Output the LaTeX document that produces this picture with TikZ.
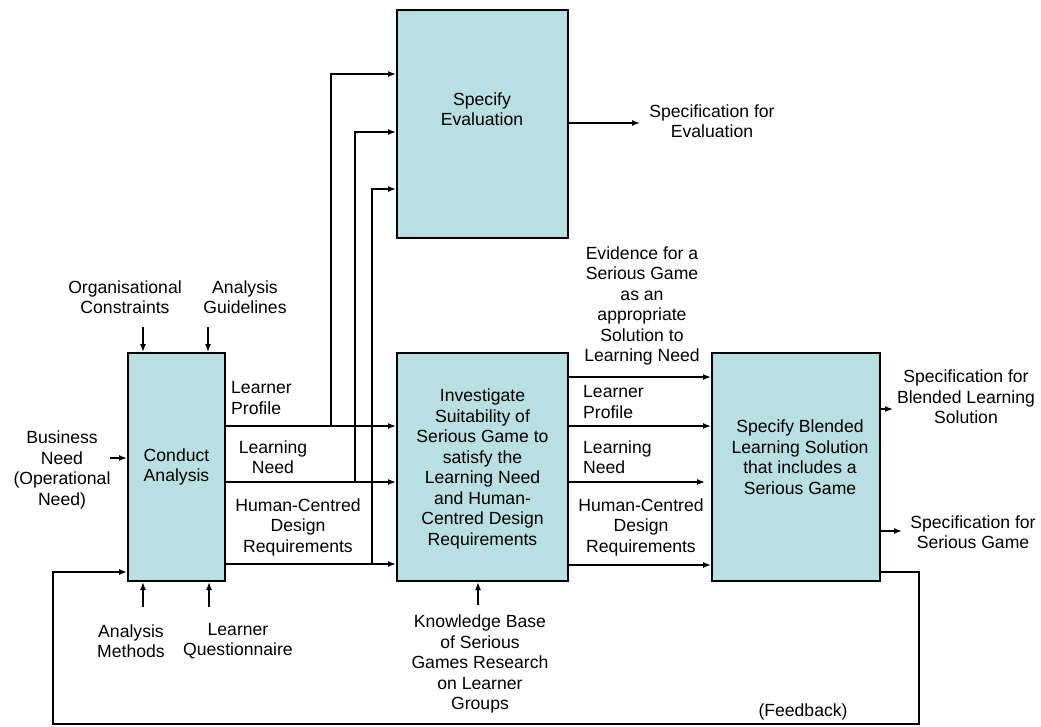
\documentclass[tikz,border=0pt]{standalone}
\usepackage{fontspec}
\setmainfont{Liberation Sans}
\usetikzlibrary{arrows.meta}
\definecolor{boxfill}{RGB}{185,223,226}
\begin{document}
\begin{tikzpicture}[x=1pt,y=-1pt,
  every node/.style={font=\fontsize{17.6}{20.5}\selectfont},
  proc/.style={draw=black,line width=2pt,fill=boxfill,anchor=north west,inner sep=4pt,align=center,text width=#1},
  lbl/.style={align=center,inner sep=0pt},
  lbll/.style={align=left,inner sep=0pt,anchor=west},
  arr/.style={line width=1.5pt,-{Latex[length=8pt,width=6pt]}},
  ln/.style={line width=1.5pt}]
\useasboundingbox (0,0) rectangle (1041,726);
% boxes
\node[proc=89pt,minimum width=97pt,minimum height=228pt] (ca) at (127,352) {};
\node at (ca.center) [lbl] {Conduct\\Analysis};
\node[proc=163pt,minimum width=171pt,minimum height=228pt] (inv) at (396,352) {};
\node at ([yshift=-2pt]inv.center) [lbl] {Investigate\\Suitability of\\Serious Game to\\satisfy the\\Learning Need\\and Human-\\Centred Design\\Requirements};
\node[proc=163pt,minimum width=171pt,minimum height=228pt] (ev) at (396,9) {};
\node at (482,109) [lbl] (evt) {Specify\\Evaluation};
\node[proc=160pt,minimum width=168pt,minimum height=228pt] (bl) at (711,352) {};
\node at (800,457) [lbl] (blt) {Specify Blended\\Learning Solution\\that includes a\\Serious Game};
% junctions
\coordinate (j1) at (331,426);
\coordinate (j2) at (355,482);
\coordinate (j3) at (372,564);
% ca -> inv
\draw[arr] (ca.east |- j1) -- (inv.west |- j1);
\draw[arr] (ca.east |- j2) -- (inv.west |- j2);
\draw[arr] (ca.east |- j3) -- (inv.west |- j3);
% verticals to evaluation
\draw[arr] (j1) |- (ev.west |- 0,74);
\draw[arr] (j2) |- (ev.west |- 0,132);
\draw[arr] (j3) |- (ev.west |- 0,189);
% evaluation output
\coordinate (evo) at (640,123);
\draw[arr] (ev.east |- evo) -- (evo);
\node[lbl] (evl) at (712,121) {Specification for\\Evaluation};
% inv -> bl
\draw[arr] (inv.east |- 0,377) -- (bl.west |- 0,377);
\draw[arr] (inv.east |- 0,426) -- (bl.west |- 0,426);
\draw[arr] (inv.east |- 0,482) -- (705,482);
\draw[arr] (inv.east |- 0,565) -- (bl.west |- 0,565);
% bl outputs
\coordinate (blo1) at (893,409);
\coordinate (blo2) at (902,531);
\draw[arr] (bl.east |- blo1) -- (blo1);
\draw[arr] (bl.east |- blo2) -- (blo2);
\node[lbl] at (966,397) {Specification for\\Blended Learning\\Solution};
\node[lbl] at (973,532) {Specification for\\Serious Game};
% feedback
\coordinate (fb1) at (919,724);
\coordinate (fb2) at (53,572);
\draw[arr] (bl.east |- 0,572) -| (fb1) -| (fb2) -- (ca.west |- fb2);
\node[lbl] at (803,712) {(Feedback)};
% inputs to ca
\coordinate (t1) at (143,327);
\coordinate (t2) at (208,327);
\draw[arr] (t1) -- (t1 |- ca.north);
\draw[arr] (t2) -- (t2 |- ca.north);
\node[lbl] at (125,297) {Organisational\\Constraints};
\node[lbl] at (245,297) {Analysis\\Guidelines};
\coordinate (b1) at (143,607);
\coordinate (b2) at (209,607);
\draw[arr] (b1) -- (b1 |- ca.south);
\draw[arr] (b2) -- (b2 |- ca.south);
\node[lbl] at (131,641) {Analysis\\Methods};
\node[lbl] at (238,641) {Learner\\Questionnaire};
\coordinate (bn) at (110,458);
\draw[arr] (bn) -- (ca.west |- bn);
\node[lbl] at (62,470) {Business\\Need\\(Operational\\Need)};
% knowledge
\coordinate (kb) at (478,605);
\draw[arr] (kb) -- (kb |- inv.south);
\node[lbl] at (480,664) {Knowledge Base\\of Serious\\Games Research\\on Learner\\Groups};
% labels ca-inv
\node[lbll] at (231,398) {Learner\\Profile};
\node[lbl] at (273,457) {Learning\\Need};
\node[lbl] at (298,527) {Human-Centred\\Design\\Requirements};
% labels inv-bl
\node[lbl] at (642,306) {Evidence for a\\Serious Game\\as an\\appropriate\\Solution to\\Learning Need};
\node[lbll] at (583,402) {Learner\\Profile};
\node[lbll] at (583,457) {Learning\\Need};
\node[lbl] at (641,527) {Human-Centred\\Design\\Requirements};
\end{tikzpicture}
\end{document}
